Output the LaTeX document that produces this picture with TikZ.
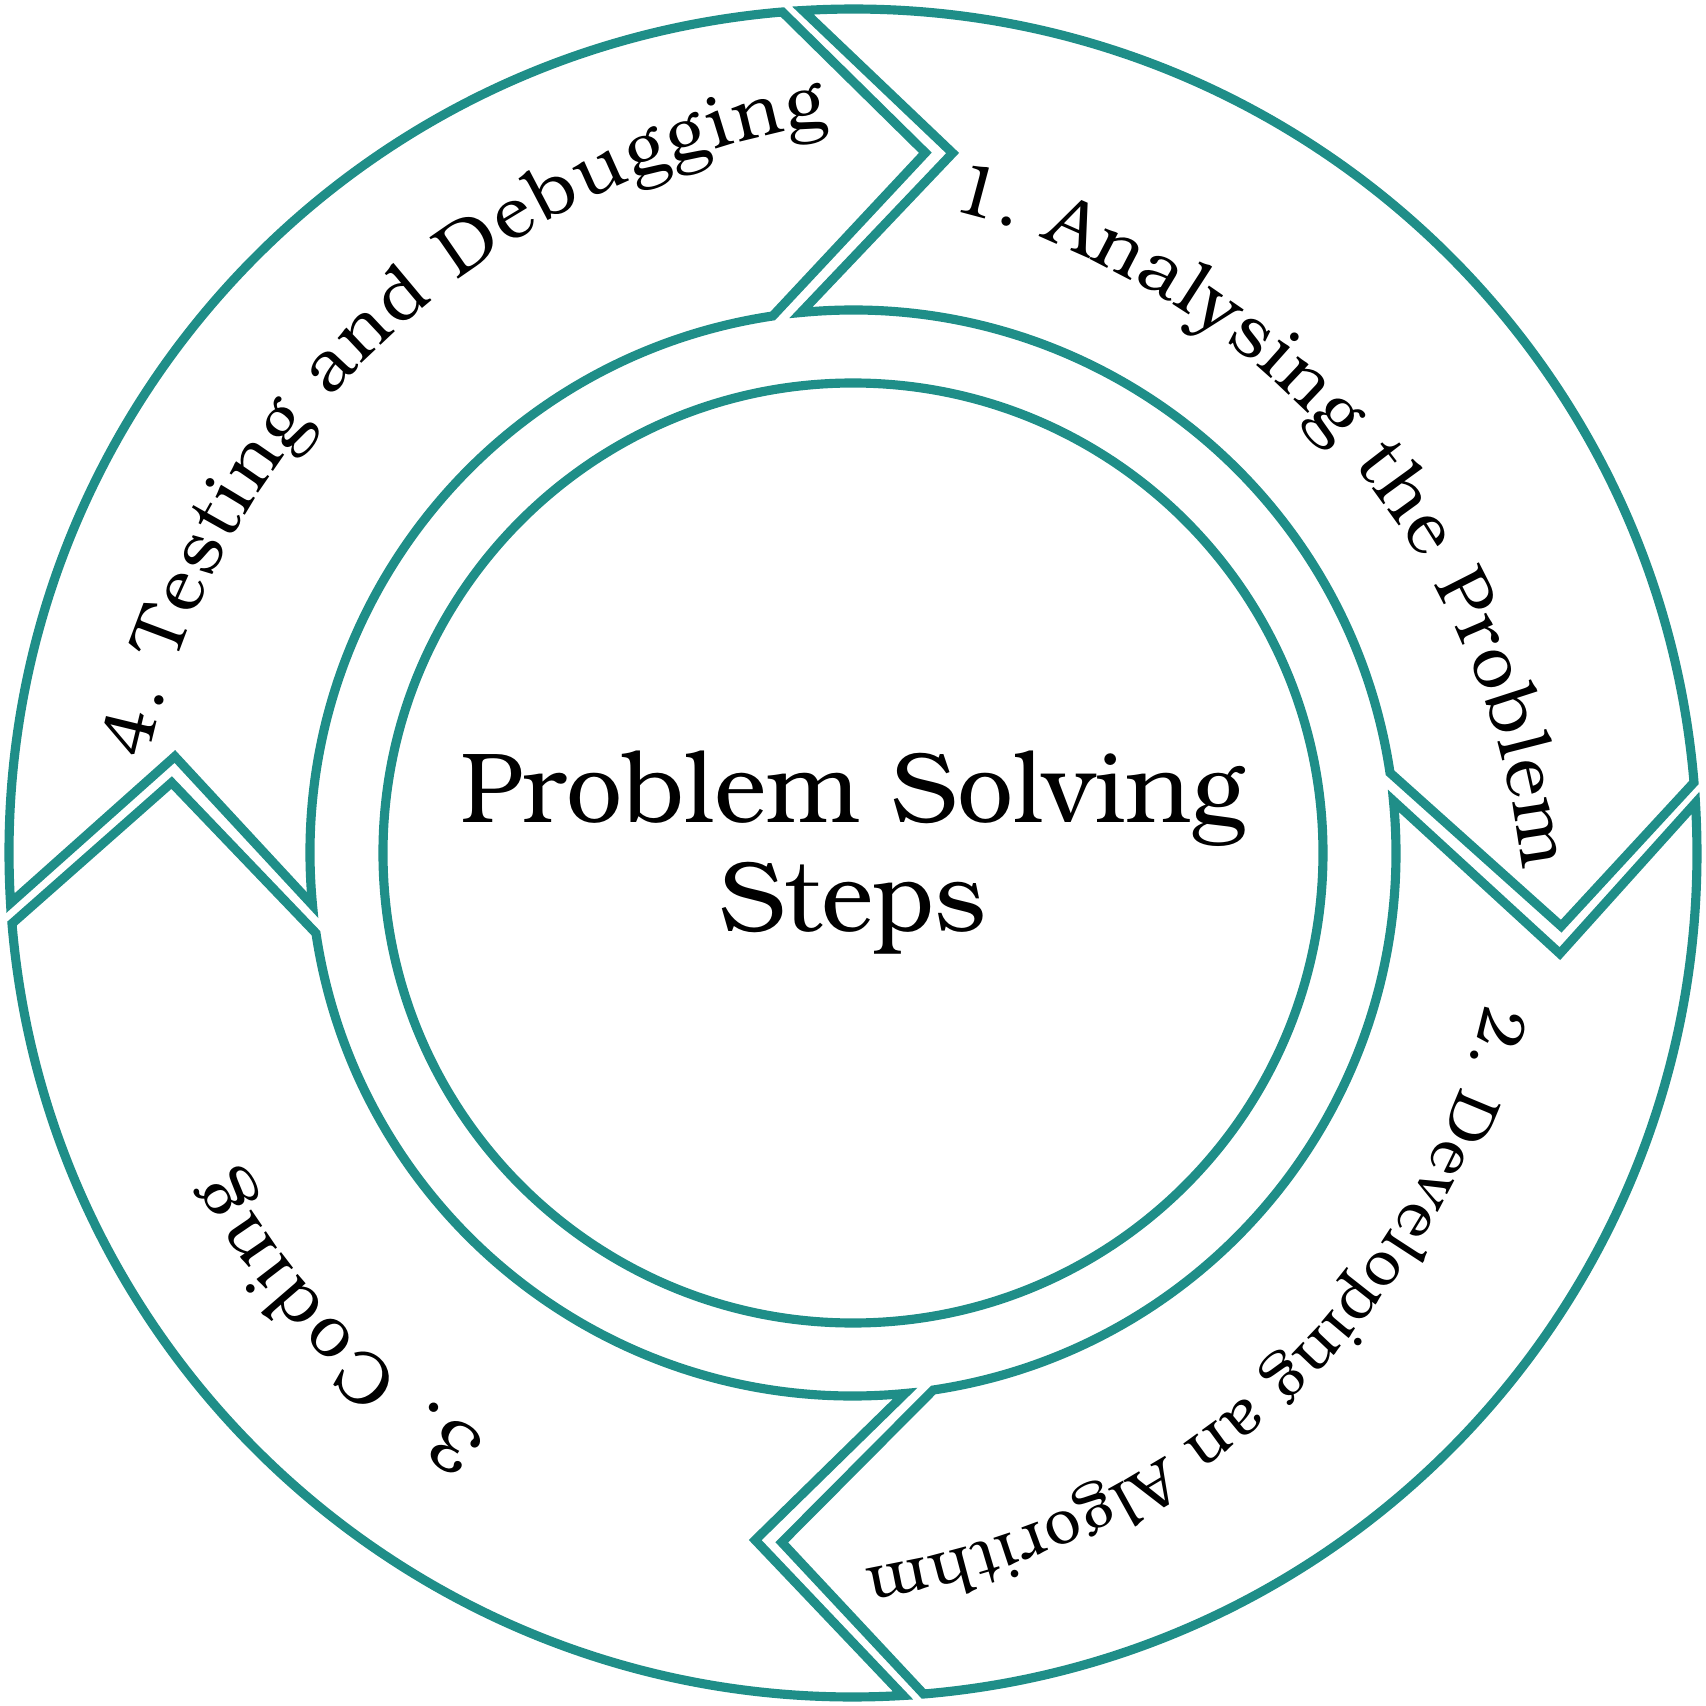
\documentclass[tikz,border=0pt]{standalone}
\usepackage{fontspec}
\setmainfont{texgyrebonum-regular.otf}
\usetikzlibrary{decorations.text}

\definecolor{ringteal}{RGB}{31,142,136}
\newcommand{\arcfont}{\fontsize{21}{25}\selectfont}
\newcommand{\arcfontsm}{\fontsize{18.3}{22}\selectfont}

\tikzset{
  arrowseg/.style={draw=ringteal, line width=2.6pt, fill=white, line join=miter},
  arclabel/.style={decorate, decoration={text along path, text align={fit to path}}}
}

\begin{document}
\begin{tikzpicture}
\useasboundingbox (-8.53,-8.53) rectangle (8.53,8.53);

% the four arrows of the cycle: tail angle / head tip radius / notch radius
\foreach \a/\rh/\rn in {90/7.12/7.07, 0/6.93/7.14, -90/6.85/6.94, -180/7.04/6.85} {
  \pgfmathsetmacro{\b}{\a-90}
  \draw[arrowseg] ({\a+3.4}:8.44) arc[start angle={\a+3.4}, end angle={\b+4.8}, radius=8.44]
    -- ({\b-5.9}:\rh) -- ({\b+8.5}:5.43)
    arc[start angle={\b+8.5}, end angle={\a+5.5}, radius=5.43]
    -- ({\a-8.1}:\rn) -- cycle;
}

% centre
\node[draw=ringteal, line width=2.6pt, circle, minimum size=9.4cm, align=center,
  font=\fontsize{28.4}{31}\selectfont] (hub) at (0,0) {Problem Solving\\Steps};

% step labels (r runs from start to end radius, with a small dip)
\path[arclabel, decoration={text={|\arcfont|1. Analysing the Problem}}]
  plot[domain=81.5:-1.5, samples=40, variable=\t]
  (\t:{6.51+0.19*(81.5-\t)/83-1.1*(81.5-\t)*(\t+1.5)/6889});
\path[arclabel, decoration={text={|\arcfontsm|2. Developing an Algorithm}}]
  plot[domain=-13.5:-89, samples=40, variable=\t]
  (\t:{6.50+0.66*(-13.5-\t)/75.5-0.6*(-13.5-\t)*(\t+89)/5700});
\path[arclabel, decoration={text={|\arcfont|3. Coding}}]
  plot[domain=238:207, samples=20, variable=\t]
  (\t:{6.90+0.10*(238-\t)/31});
\path[arclabel, decoration={text={|\arcfont|4. Testing and Debugging}}]
  plot[domain=172.5:92, samples=40, variable=\t]
  (\t:{7.12+0.18*(172.5-\t)/80.5-1.1*(172.5-\t)*(\t-92)/6480});
\end{tikzpicture}
\end{document}
